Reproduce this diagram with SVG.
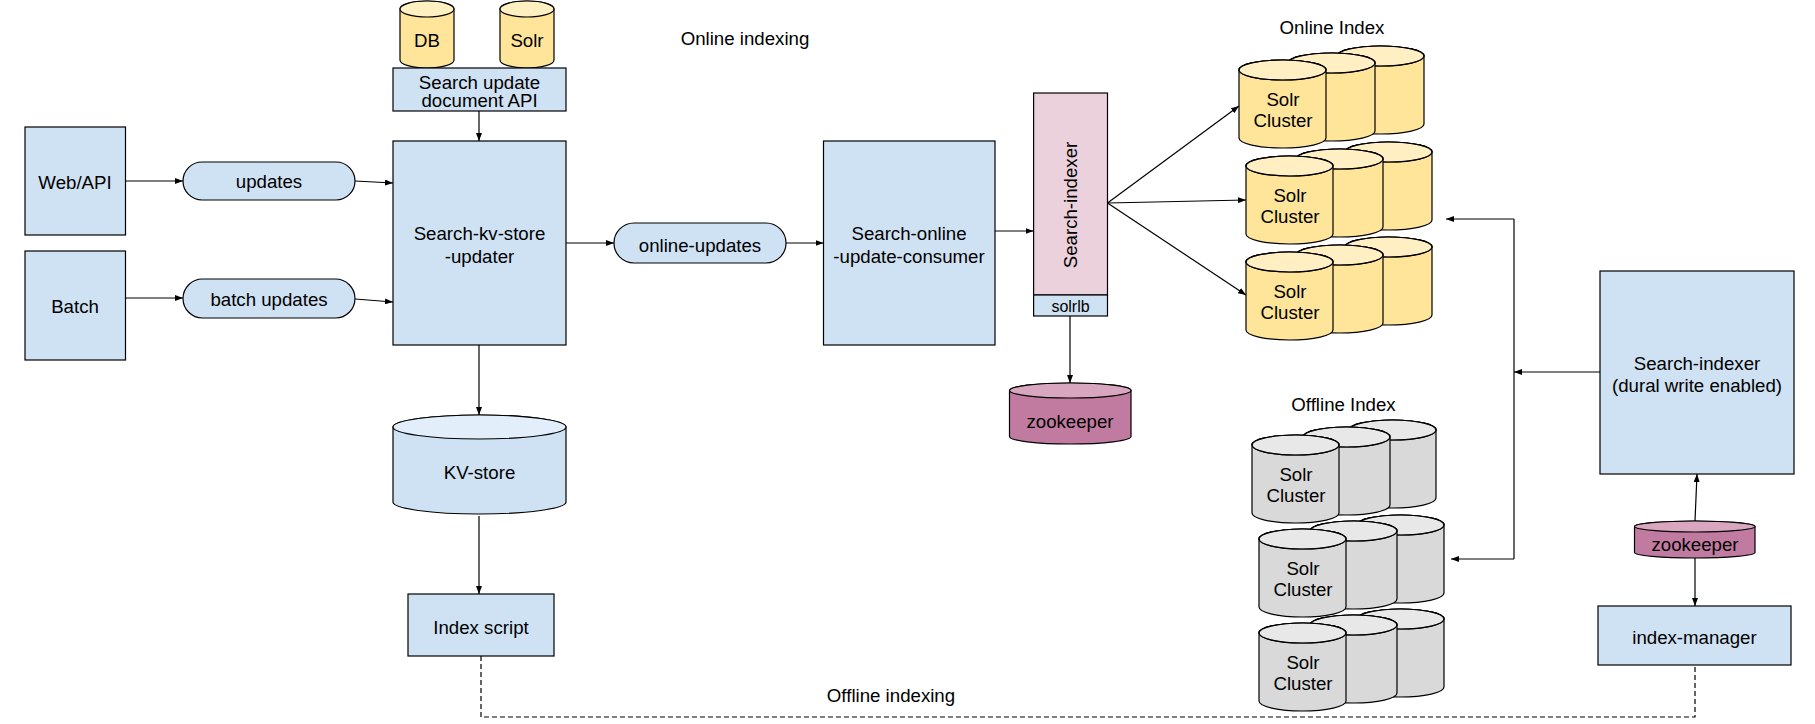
<svg xmlns="http://www.w3.org/2000/svg" xmlns:xlink="http://www.w3.org/1999/xlink" width="1815" height="724" viewBox="0 0 1815 724">
<style>
text{font-family:"Liberation Sans",Arial,sans-serif;font-size:18.67px;fill:#000;text-anchor:middle}
.sm{font-size:16px}
.box{fill:#cfe2f3;stroke:#000;stroke-width:1.2}
.pink{fill:#ead1dc;stroke:#000;stroke-width:1.2}
.ln{fill:none;stroke:#000;stroke-width:1.2}
.arr{fill:none;stroke:#000;stroke-width:1.2;marker-end:url(#ah)}
.dash{fill:none;stroke:#000;stroke-width:1.2;stroke-dasharray:5 3}
.cylb{stroke:#000;stroke-width:1.2}
</style>
<defs>
<marker id="ah" markerUnits="userSpaceOnUse" markerWidth="8" markerHeight="6" refX="8" refY="3" orient="auto">
<path d="M0,0 L8,3 L0,6 z" fill="#000"/>
</marker>
<g id="cyl">
<path d="M0,10 A43.5,10 0 0 1 87,10 L87,78 A43.5,10 0 0 1 0,78 Z" stroke="#000" stroke-width="1.2"/>
<ellipse cx="43.5" cy="10" rx="43.5" ry="10" stroke="#000" stroke-width="1.2"/>
<ellipse cx="43.5" cy="10" rx="43.5" ry="10" fill="#fff" fill-opacity="0.4" stroke="#000" stroke-width="1.2"/>
</g>
</defs>
<rect width="1815" height="724" fill="#fff"/>

<g id="connectors">
<path class="arr" d="M479,111 L479,141"/>
<path class="arr" d="M125.5,181 L183,181"/>
<path class="arr" d="M355,181 L393,183"/>
<path class="arr" d="M125.5,298 L183,298"/>
<path class="arr" d="M355,299 L393,302"/>
<path class="arr" d="M566,243 L614,243"/>
<path class="arr" d="M786,243 L823.5,243"/>
<path class="arr" d="M995,231 L1033.6,231"/>
<path class="arr" d="M1107.5,203 L1239,106"/>
<path class="arr" d="M1107.5,203 L1246,200"/>
<path class="arr" d="M1107.5,203 L1246,295"/>
<path class="arr" d="M1070,316 L1070,383"/>
<path class="arr" d="M479,345 L479,415"/>
<path class="arr" d="M479,516 L479,594"/>
<path class="arr" d="M1600,372 L1514,372"/>
<path class="ln" d="M1514,219 L1514,559"/>
<path class="arr" d="M1514,219 L1446,219"/>
<path class="arr" d="M1514,559 L1451,559"/>
<path class="arr" d="M1695,521 L1697,474"/>
<path class="arr" d="M1695,558 L1695,606"/>
<path class="dash" d="M481,656 L481,717 L1695,717 L1695,665"/>
</g>

<g id="labels">
<text x="745" y="44.5">Online indexing</text>
<text x="891" y="701.5">Offline indexing</text>
<text x="1332" y="33.5">Online Index</text>
<text x="1343.5" y="410.5">Offline Index</text>
</g>

<g id="db">
<path class="cylb" fill="#ffe599" d="M400,9 A27,8 0 0 1 454,9 L454,60 A27,8 0 0 1 400,60 Z"/>
<ellipse class="cylb" fill="#fff0c2" cx="427" cy="9" rx="27" ry="8"/>
<text x="427" y="47">DB</text>
</g>
<g id="solr">
<path class="cylb" fill="#ffe599" d="M500,9 A27,8 0 0 1 554,9 L554,60 A27,8 0 0 1 500,60 Z"/>
<ellipse class="cylb" fill="#fff0c2" cx="527" cy="9" rx="27" ry="8"/>
<text x="527" y="47">Solr</text>
</g>
<g id="api">
<rect class="box" x="393" y="68" width="173" height="43"/>
<text x="479.5" y="88.5">Search update</text>
<text x="479.5" y="106.5">document API</text>
</g>
<g id="webapi">
<rect class="box" x="25" y="127" width="100.5" height="108"/>
<text x="75" y="188.5">Web/API</text>
</g>
<g id="batch">
<rect class="box" x="25" y="251" width="100.5" height="109"/>
<text x="75" y="312.5">Batch</text>
</g>
<g id="updates">
<rect class="box" x="183" y="162" width="172" height="38" rx="19" ry="19"/>
<text x="269" y="188">updates</text>
</g>
<g id="batchupdates">
<rect class="box" x="183" y="279" width="172" height="39" rx="19.5" ry="19.5"/>
<text x="269" y="305.5">batch updates</text>
</g>
<g id="kvupdater">
<rect class="box" x="393" y="141" width="173" height="204"/>
<text x="479.5" y="239.5">Search-kv-store</text>
<text x="479.5" y="262.5">-updater</text>
</g>
<g id="onlineupdates">
<rect class="box" x="614" y="223" width="172" height="40" rx="20" ry="20"/>
<text x="700" y="251.5">online-updates</text>
</g>
<g id="consumer">
<rect class="box" x="823.5" y="141" width="171.5" height="204"/>
<text x="909" y="239.5">Search-online</text>
<text x="909" y="262.5">-update-consumer</text>
</g>
<g id="indexer">
<rect class="pink" x="1033.6" y="93" width="73.9" height="202"/>
<rect class="box" x="1033.6" y="295" width="73.9" height="21"/>
<text transform="translate(1070,205) rotate(-90)" x="0" y="6.5">Search-indexer</text>
<text class="sm" x="1070.5" y="311.5">solrlb</text>
</g>
<g id="zookeeper1">
<path class="cylb" fill="#c27ba0" d="M1009.5,390.5 A60.75,7.5 0 0 1 1131,390.5 L1131,436.5 A60.75,7.5 0 0 1 1009.5,436.5 Z"/>
<ellipse class="cylb" fill="#d9a6c0" cx="1070.25" cy="390.5" rx="60.75" ry="7.5"/>
<text x="1070" y="427.5">zookeeper</text>
</g>
<g id="kvstore">
<path class="cylb" fill="#cfe2f3" d="M393,427 A86.5,12 0 0 1 566,427 L566,502 A86.5,12 0 0 1 393,502 Z"/>
<ellipse class="cylb" fill="#e2eef9" cx="479.5" cy="427" rx="86.5" ry="12"/>
<text x="479.5" y="478.5">KV-store</text>
</g>
<g id="indexscript">
<rect class="box" x="408" y="594" width="146" height="62"/>
<text x="481" y="633.5">Index script</text>
</g>

<g id="online1" fill="#ffe599">
<use xlink:href="#cyl" x="1337" y="46"/>
<use xlink:href="#cyl" x="1288" y="53"/>
<use xlink:href="#cyl" x="1239" y="60"/>
<text x="1283" y="106">Solr</text>
<text x="1283" y="127">Cluster</text>
</g>
<g id="online2" fill="#ffe599">
<use xlink:href="#cyl" x="1345" y="142"/>
<use xlink:href="#cyl" x="1296" y="149"/>
<use xlink:href="#cyl" x="1246" y="156"/>
<text x="1290" y="202">Solr</text>
<text x="1290" y="223">Cluster</text>
</g>
<g id="online3" fill="#ffe599">
<use xlink:href="#cyl" x="1345" y="237"/>
<use xlink:href="#cyl" x="1296" y="245"/>
<use xlink:href="#cyl" x="1246" y="252"/>
<text x="1290" y="298">Solr</text>
<text x="1290" y="319">Cluster</text>
</g>
<g id="offline1" fill="#d9d9d9">
<use xlink:href="#cyl" x="1349" y="420"/>
<use xlink:href="#cyl" x="1303" y="427"/>
<use xlink:href="#cyl" x="1252" y="435"/>
<text x="1296" y="481">Solr</text>
<text x="1296" y="502">Cluster</text>
</g>
<g id="offline2" fill="#d9d9d9">
<use xlink:href="#cyl" x="1357" y="515"/>
<use xlink:href="#cyl" x="1310" y="521"/>
<use xlink:href="#cyl" x="1259" y="529"/>
<text x="1303" y="575">Solr</text>
<text x="1303" y="596">Cluster</text>
</g>
<g id="offline3" fill="#d9d9d9">
<use xlink:href="#cyl" x="1357" y="609"/>
<use xlink:href="#cyl" x="1310" y="615"/>
<use xlink:href="#cyl" x="1259" y="623"/>
<text x="1303" y="669">Solr</text>
<text x="1303" y="690">Cluster</text>
</g>

<g id="dualindexer">
<rect class="box" x="1600" y="271" width="194" height="203"/>
<text x="1697" y="369.5">Search-indexer</text>
<text x="1697" y="391.5">(dural write enabled)</text>
</g>
<g id="zookeeper2">
<path class="cylb" fill="#c27ba0" d="M1634.5,526.5 A60.25,5.5 0 0 1 1755,526.5 L1755,552.5 A60.25,5.5 0 0 1 1634.5,552.5 Z"/>
<ellipse class="cylb" fill="#d9a6c0" cx="1694.75" cy="526.5" rx="60.25" ry="5.5"/>
<text x="1695" y="550.5">zookeeper</text>
</g>
<g id="indexmanager">
<rect class="box" x="1598" y="606" width="193" height="59"/>
<text x="1694.5" y="643.5">index-manager</text>
</g>
</svg>
